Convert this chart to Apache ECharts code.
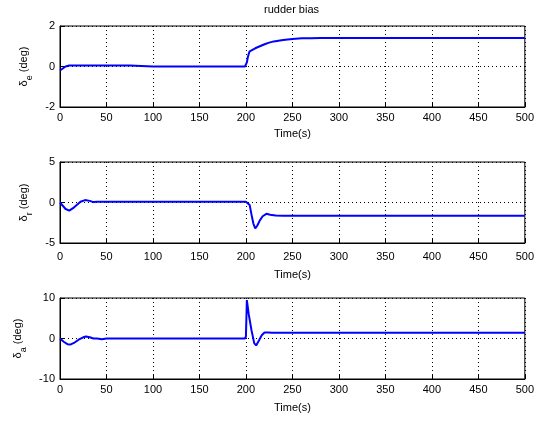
<!DOCTYPE html>
<html>
<head>
<meta charset="utf-8">
<script src="https://cdn.jsdelivr.net/npm/echarts@6/dist/echarts.min.js"></script>
<style>
html,body{margin:0;padding:0;background:#fff;}
#c{width:537px;height:421px;}
</style>
</head>
<body>
<div id="c"></div>
<script>
// ---- data ----
const xTicks = [0, 50, 100, 150, 200, 250, 300, 350, 400, 450, 500];
const titleText = 'rudder bias';

const tE  = [0, 3, 6, 10, 20, 40, 75, 76, 100, 199, 200, 201, 202, 203, 204, 205, 210, 215, 220, 225, 230, 240, 250, 260, 270, 280, 300, 400, 500];
const dE  = [-0.2, -0.1, 0, 0.05, 0.05, 0.05, 0.05, 0, 0, 0, 0, 0.2, 0.45, 0.62, 0.75, 0.8, 0.9, 1.0, 1.1, 1.18, 1.24, 1.31, 1.36, 1.39, 1.4, 1.41, 1.41, 1.41, 1.41];

const tR  = [0, 3, 6, 10, 14, 18, 22, 27, 32, 36, 40, 200, 202, 204, 206, 208, 210, 212, 215, 218, 222, 226, 232, 240, 500];
const dR  = [0, -0.4, -0.8, -1.0, -0.7, -0.3, 0.1, 0.3, 0.2, 0.05, 0.08, 0.1, 0.1, -0.3, -1.5, -2.6, -3.2, -2.9, -2.2, -1.7, -1.4, -1.5, -1.6, -1.65, -1.65];

const tA  = [0, 4, 8, 11, 15, 20, 25, 28, 32, 36, 40, 45, 50, 199, 200, 201, 203, 206, 209, 211, 214, 217, 220, 224, 228, 500];
const dA  = [0, -0.8, -1.4, -1.5, -1.1, -0.3, 0.3, 0.5, 0.3, 0, 0, -0.2, 0, 0, 0.5, 9.5, 6, 2, -1.2, -1.7, -0.5, 0.8, 1.5, 1.5, 1.4, 1.4];

const yRanges = [[-2, 2, 2], [-5, 5, 5], [-10, 10, 10]];
const yNames = [['δ', 'e'], ['δ', 'r'], ['δ', 'a']];

function pairs(t, v) { return t.map((x, i) => [x, v[i]]); }

const font = 'Liberation Sans, Arial, sans-serif';
const grids = [
  {left: 60, top: 26, width: 466, height: 81},
  {left: 60, top: 162, width: 466, height: 81},
  {left: 60, top: 298, width: 466, height: 81}
];
const xNameGaps = [21, 26, 23];
const xLabelMargins = [5, 8, 5];

const chart = echarts.init(document.getElementById('c'));
const option = {
  animation: false,
  backgroundColor: '#fff',
  graphic: [{
    type: 'text', left: 264, top: 4,
    style: {text: titleText, font: '11px ' + font, fill: '#000'}
  }],
  grid: grids.map(g => Object.assign({show: true, borderColor: '#000', borderWidth: 1, backgroundColor: '#fff'}, g)),
  xAxis: grids.map((g, i) => ({
    type: 'value', gridIndex: i, min: 0, max: 500, interval: 50,
    name: 'Time(s)', nameLocation: 'middle', nameGap: xNameGaps[i],
    nameTextStyle: {fontFamily: font, fontSize: 11, color: '#000'},
    axisLine: {show: true, onZero: false, lineStyle: {color: '#000', width: 1}},
    axisTick: {show: true, inside: true, length: 4, lineStyle: {color: '#000'}},
    axisLabel: {fontFamily: font, fontSize: 11, color: '#000', margin: xLabelMargins[i]},
    splitLine: {show: true, lineStyle: {color: '#000', type: [1, 3], width: 1}}
  })),
  yAxis: grids.map((g, i) => ({
    type: 'value', gridIndex: i, min: yRanges[i][0], max: yRanges[i][1], interval: yRanges[i][2],
    name: '{m|' + yNames[i][0] + '}{s|' + yNames[i][1] + '}{m| (deg)}',
    nameLocation: 'middle', nameGap: 26, nameRotate: 90,
    nameTextStyle: {
      fontFamily: font, fontSize: 11, color: '#000',
      rich: {
        m: {fontFamily: font, fontSize: 11, color: '#000', verticalAlign: 'top', lineHeight: 13},
        s: {fontFamily: font, fontSize: 9, color: '#000', padding: [7, 0, 0, 0], verticalAlign: 'top', lineHeight: 10}
      }
    },
    axisLine: {show: true, onZero: false, lineStyle: {color: '#000', width: 1}},
    axisTick: {show: true, inside: true, length: 4, lineStyle: {color: '#000'}},
    axisLabel: {fontFamily: font, fontSize: 11, color: '#000', margin: 5},
    splitLine: {show: true, lineStyle: {color: '#000', type: [1, 3], width: 1}}
  })),
  series: [
    {type: 'line', xAxisIndex: 0, yAxisIndex: 0, data: pairs(tE, dE)},
    {type: 'line', xAxisIndex: 1, yAxisIndex: 1, data: pairs(tR, dR)},
    {type: 'line', xAxisIndex: 2, yAxisIndex: 2, data: pairs(tA, dA)}
  ].map(s => Object.assign(s, {showSymbol: false, symbol: 'none', lineStyle: {color: '#0000ff', width: 2}, itemStyle: {color: '#0000ff'}}))
};
chart.setOption(option);
</script>
</body>
</html>
